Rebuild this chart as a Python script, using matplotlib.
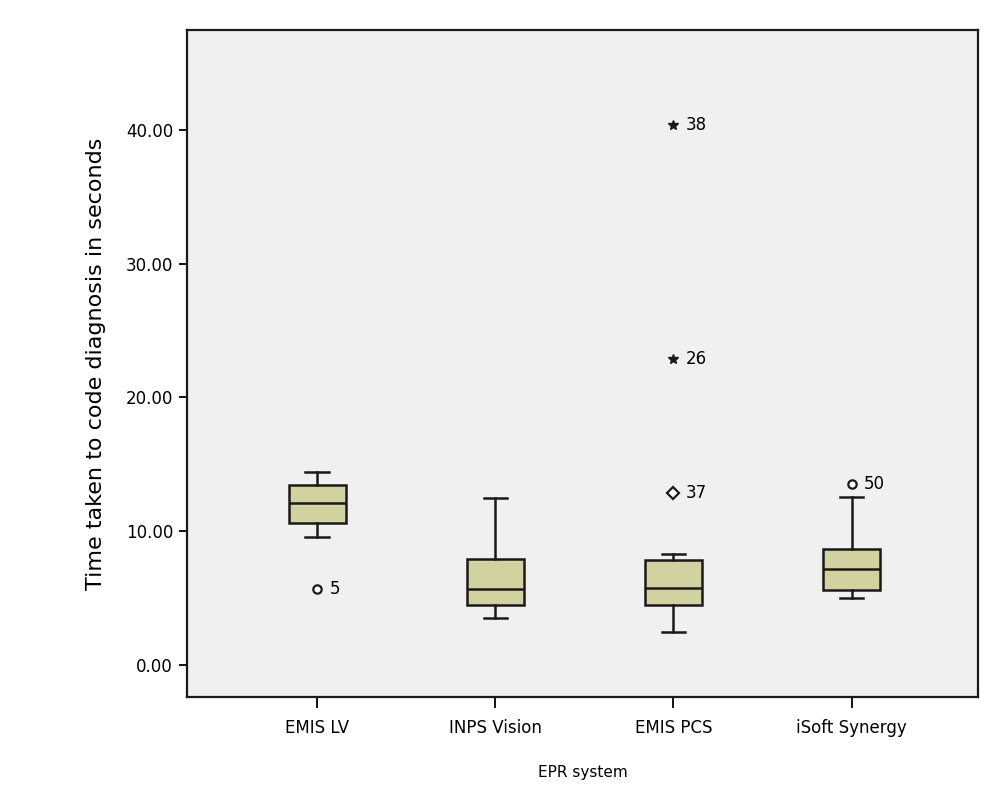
import matplotlib
matplotlib.use("Agg")
import matplotlib.pyplot as plt

# values
systems = ["EMIS LV", "INPS Vision", "EMIS PCS", "iSoft Synergy"]
whislo = [9.6, 3.5, 2.45, 5.0]
q1 = [10.6, 4.45, 4.45, 5.6]
med = [12.1, 5.65, 5.75, 7.15]
q3 = [13.45, 7.95, 7.85, 8.7]
whishi = [14.45, 12.45, 8.3, 12.55]

# outliers (circle) and extremes (star): group index, value, case label
out_grp = [0, 2, 3]
out_val = [5.65, 12.85, 13.5]
out_lab = ["5", "37", "50"]
ext_grp = [2, 2]
ext_val = [22.85, 40.35]
ext_lab = ["26", "38"]

fig = plt.figure(figsize=(10.07, 8.06), dpi=100)
ax = fig.add_axes([187 / 1007, 1 - 697 / 806, (978 - 187) / 1007, (697 - 30) / 806])
ax.set_facecolor("#f0f0f0")

stats = []
for i in range(len(systems)):
    stats.append(dict(whislo=whislo[i], q1=q1[i], med=med[i], q3=q3[i],
                      whishi=whishi[i], fliers=[], label=systems[i]))

ax.bxp(stats, positions=range(len(systems)), widths=0.32, patch_artist=True,
       showfliers=False,
       boxprops=dict(facecolor="#d2d2a0", edgecolor="#1a1a1a", linewidth=1.8),
       medianprops=dict(color="#1a1a1a", linewidth=1.8),
       whiskerprops=dict(color="#1a1a1a", linewidth=1.8),
       capprops=dict(color="#1a1a1a", linewidth=1.8),
       capwidths=0.13)

for g, v, lab in zip(out_grp, out_val, out_lab):
    mk = "D" if lab == "37" else "o"
    ax.plot(g, v, marker=mk, ms=6, mfc="white", mec="#1a1a1a", mew=1.6, ls="none")
    ax.annotate(lab, (g, v), xytext=(9, 0), textcoords="offset points",
                va="center", ha="left", fontsize=12)
for g, v, lab in zip(ext_grp, ext_val, ext_lab):
    ax.plot(g, v, marker="*", ms=7, color="#1a1a1a", ls="none")
    ax.annotate(lab, (g, v), xytext=(9, 0), textcoords="offset points",
                va="center", ha="left", fontsize=12)

ax.set_xlim(-0.73, 3.71)
ax.set_ylim(-2.39, 47.46)
ax.set_yticks([0, 10, 20, 30, 40])
ax.set_yticklabels(["0.00", "10.00", "20.00", "30.00", "40.00"])
ax.tick_params(axis="y", labelsize=12, length=6, width=1.3, direction="out", pad=4)
ax.tick_params(axis="x", labelsize=12, length=8, width=1.3, direction="out", pad=8)

for s in ax.spines.values():
    s.set_linewidth(1.6)
    s.set_color("#1a1a1a")

ax.set_ylabel("Time taken to code diagnosis in seconds", fontsize=16, labelpad=14)
ax.set_xlabel("EPR system", fontsize=11, labelpad=20)

fig.savefig("out.png", dpi=100, facecolor="white")
